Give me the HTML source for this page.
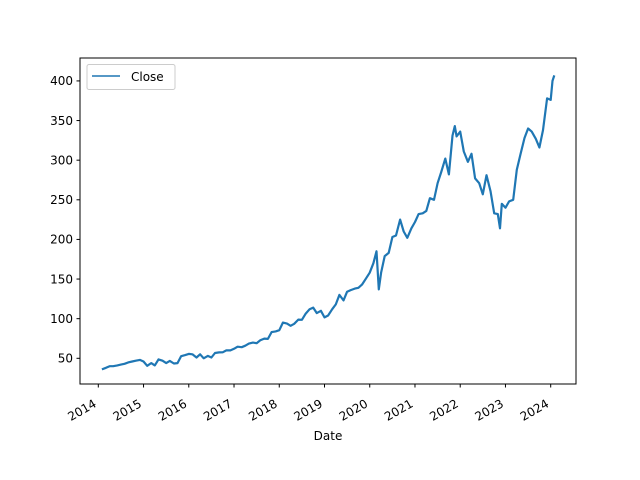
<!DOCTYPE html>
<html><head><meta charset="utf-8"><style>
body{margin:0;background:#fff;}
svg{display:block;font-family:"DejaVu Sans","Liberation Sans",sans-serif;}
</style></head><body>
<svg id="chart" width="640" height="480" viewBox="0 0 640 480">
<rect x="0" y="0" width="640" height="480" fill="#fff"/>
<g id="plot"></g>
<rect x="80" y="58" width="496" height="326" fill="none" stroke="#000" stroke-width="1"/>
<g id="xticks"></g><g id="yticks"></g>
<text x="328" y="440" font-size="12" text-anchor="middle">Date</text>
<g>
<rect x="87" y="64.5" width="88" height="25" rx="2" fill="#fff" stroke="#ccc"/>
<line x1="92" y1="76" x2="120" y2="76" stroke="#1f77b4" stroke-width="1.5"/>
<text x="131" y="81" font-size="12">Close</text>
</g>
</svg>
<script>
const dates = [2014.08,2014.17,2014.25,2014.33,2014.42,2014.5,2014.58,2014.67,2014.75,2014.83,2014.92,2015.0,
2015.08,2015.17,2015.25,2015.33,2015.42,2015.5,2015.58,2015.67,2015.75,2015.83,2015.92,2016.0,
2016.08,2016.17,2016.25,2016.33,2016.42,2016.5,2016.58,2016.67,2016.75,2016.83,2016.92,2017.0,
2017.08,2017.17,2017.25,2017.33,2017.42,2017.5,2017.58,2017.67,2017.75,2017.83,2017.92,2018.0,
2018.08,2018.17,2018.25,2018.33,2018.42,2018.5,2018.58,2018.67,2018.75,2018.83,2018.92,2019.0,
2019.08,2019.17,2019.25,2019.33,2019.42,2019.5,2019.58,2019.67,2019.75,2019.83,2019.92,2020.0,
2020.08,2020.15,2020.2,2020.25,2020.33,2020.42,2020.5,2020.58,2020.67,2020.75,2020.83,2020.92,2021.0,
2021.08,2021.17,2021.25,2021.33,2021.42,2021.5,2021.58,2021.67,2021.75,2021.83,2021.88,2021.92,2022.0,
2022.08,2022.17,2022.25,2022.33,2022.42,2022.5,2022.58,2022.67,2022.75,2022.83,2022.88,2022.92,2023.0,
2023.08,2023.17,2023.25,2023.33,2023.42,2023.5,2023.58,2023.67,2023.75,2023.83,2023.92,2024.0,2024.04,2024.08];
const closes = [36,38,40,40,41,42,43,45,46,47,48,46,
40.5,44,41,48.6,47,44,46.7,43.5,44,52.6,54,55.5,
55,51,55,50,53,51,56.7,57.5,57.6,60,60,62,
64.6,64,65.9,68.5,69.8,69,72.7,74.8,74.5,83,84,85.5,
95,93.8,91,93.5,98.8,98.6,106,112,114,107,110,101.6,
104,112,118,130,123,134,136,138,139,143,151,158,
170,185,137,158,179,183,203,205,225,210,202,214,222,
232,233,236,252,250,271,285,302,282,331,343,330,336,
311,298,308,277,271,257,281,261,233,232,214,245,240,
248,250,288,307,328,340,336,327,316,338,378,376,400,407];
const xTickYears = [2014,2015,2016,2017,2018,2019,2020,2021,2022,2023,2024];
const yTickVals = [50,100,150,200,250,300,350,400];
const NS='http://www.w3.org/2000/svg';
const xs = d => 98.3 + (d-2014)*45.24;
const ys = v => 358.3 - (v-50)*0.7925;
const plot=document.getElementById('plot');
const line=document.createElementNS(NS,'polyline');


line.setAttribute('points', dates.map((d,i)=>xs(d).toFixed(1)+','+ys(closes[i]).toFixed(1)).join(' '));
line.setAttribute('fill','none');line.setAttribute('stroke','#1f77b4');line.setAttribute('stroke-width','2.2');line.setAttribute('stroke-linejoin','round');
plot.appendChild(line);
const xg=document.getElementById('xticks');
xTickYears.forEach(y=>{
 const x=xs(y);
 const t=document.createElementNS(NS,'line');
 
 
 t.setAttribute('x1',x);t.setAttribute('x2',x);t.setAttribute('y1',384);t.setAttribute('y2',387.5);t.setAttribute('stroke','#000');
 xg.appendChild(t);
 const l=document.createElementNS(NS,'text');
 
 
 l.setAttribute('font-size','12');l.setAttribute('text-anchor','end');
 l.setAttribute('transform','translate('+(x-1)+',406) rotate(-30)');
 l.textContent=y;xg.appendChild(l);
});
const yg=document.getElementById('yticks');
yTickVals.forEach(v=>{
 const y=ys(v);
 const t=document.createElementNS(NS,'line');
 
 
 t.setAttribute('x1',76.5);t.setAttribute('x2',80);t.setAttribute('y1',y);t.setAttribute('y2',y);t.setAttribute('stroke','#000');
 yg.appendChild(t);
 const l=document.createElementNS(NS,'text');
 
 
 l.setAttribute('font-size','12');l.setAttribute('text-anchor','end');
 l.setAttribute('x',73);l.setAttribute('y',y+4.3);
 l.textContent=v;yg.appendChild(l);
});
</script>
</body></html>
